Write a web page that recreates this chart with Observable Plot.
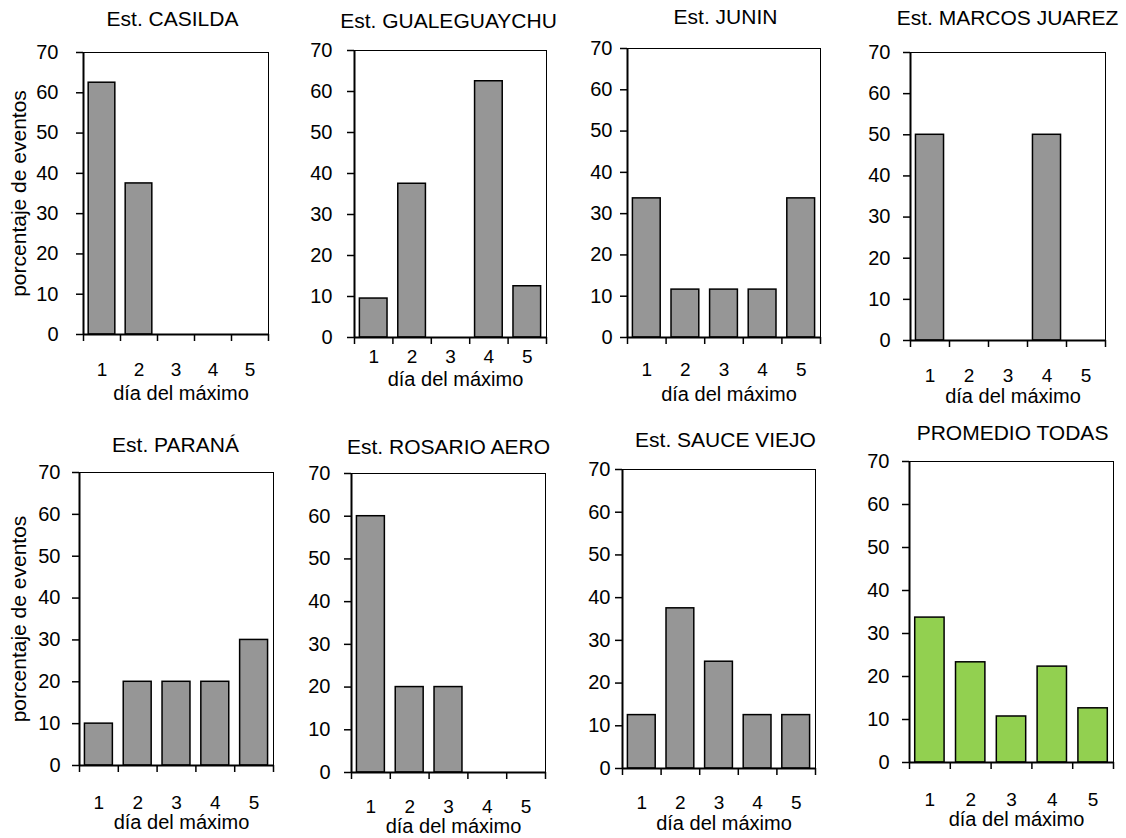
<!DOCTYPE html>
<html>
<head>
<meta charset="utf-8">
<script src="https://cdn.jsdelivr.net/npm/d3@7"></script>
<script src="https://cdn.jsdelivr.net/npm/@observablehq/plot@0.6"></script>
<style>
  html, body { margin: 0; padding: 0; background: #fff; overflow: hidden; }
  #wrap { position: relative; width: 1126px; height: 838px; overflow: hidden; background: #fff; }
  .panel { position: absolute; }
  .panel svg { overflow: visible; max-width: none !important; }
</style>
</head>
<body>
<div id="wrap"></div>
<script>
// ---- data ----
const days = [1, 2, 3, 4, 5];
const yTicks = [0, 10, 20, 30, 40, 50, 60, 70];
const titles = ["Est. CASILDA", "Est. GUALEGUAYCHU", "Est. JUNIN", "Est. MARCOS JUAREZ",
                "Est. PARANÁ", "Est. ROSARIO AERO", "Est. SAUCE VIEJO", "PROMEDIO TODAS"];
const casilda      = [62.5, 37.5, 0, 0, 0];
const gualeguaychu = [9.5, 37.5, 0, 62.5, 12.5];
const junin        = [33.7, 11.6, 11.6, 11.6, 33.7];
const marcosJuarez = [50, 0, 0, 50, 0];
const parana       = [10, 20, 20, 20, 30];
const rosarioAero  = [60, 20, 20, 0, 0];
const sauceViejo   = [12.5, 37.5, 25, 12.5, 12.5];
const promedio     = [33.7, 23.3, 10.7, 22.3, 12.6];
const series = [casilda, gualeguaychu, junin, marcosJuarez, parana, rosarioAero, sauceViejo, promedio];
const xLabel = "día del máximo";
const yLabel = "porcentaje de eventos";

// ---- layout (pixel geometry of each panel) ----
const layout = [
  {l: 83,  r: 268,  t: 52,  b: 334, tx: 172,  ty: 19,  tick: 35, xl: 59, yg: 25, ylab: true},
  {l: 354, r: 546,  t: 50,  b: 337, tx: 448,  ty: 21,  tick: 19, xl: 42, yg: 22, ylab: false},
  {l: 627, r: 820,  t: 48,  b: 337, tx: 725,  ty: 17,  tick: 32, xl: 57, yg: 15, ylab: false},
  {l: 910, r: 1105, t: 52,  b: 340, tx: 1007, ty: 18,  tick: 35, xl: 56, yg: 20, ylab: false},
  {l: 79,  r: 273,  t: 472, b: 765, tx: 175,  ty: 445, tick: 37, xl: 57, yg: 19, ylab: true},
  {l: 351, r: 545,  t: 473, b: 772, tx: 448,  ty: 447, tick: 34, xl: 54, yg: 21, ylab: false},
  {l: 622, r: 815,  t: 469, b: 768, tx: 725,  ty: 440, tick: 34, xl: 55, yg: 12, ylab: false},
  {l: 909, r: 1113, t: 461, b: 762, tx: 1012, ty: 433, tick: 37, xl: 57, yg: 20, ylab: false}
];

const ML = 95, MR = 30, MT = 50, MB = 75;
const FONT = "'Liberation Sans', Arial, sans-serif";
const wrap = document.getElementById("wrap");
const bounds = d3.range(0.5, 5.51, 1);

series.forEach((vals, i) => {
  const g = layout[i];
  const data = days.map((d, j) => ({day: d, value: vals[j]}));
  const fill = i === 7 ? "#92d050" : "#969696";
  const w = g.r - g.l, h = g.b - g.t;
  const marks = [
    Plot.rectY(data, {x1: d => d.day - 0.36, x2: d => d.day + 0.36, y1: 0, y2: "value",
      fill, stroke: "#000", strokeWidth: 1.5}),
    Plot.ruleY([70], {stroke: "#000", strokeWidth: 1}),
    Plot.ruleX([5.5], {stroke: "#000", strokeWidth: 1}),
    Plot.ruleX([0.5], {stroke: "#000", strokeWidth: 2}),
    Plot.ruleY([0], {stroke: "#000", strokeWidth: 2}),
    // category boundary tick marks below the x axis
    Plot.ruleX(bounds, {x: d => d, y1: 0, y2: 0, insetBottom: -7, stroke: "#000", strokeWidth: 1.5}),
    Plot.axisY({ticks: yTicks, tickSize: 7, tickPadding: Math.max(2, g.yg - 7),
      tickFormat: d3.format("d"), fontSize: 20, label: null, stroke: "#000", strokeWidth: 1.5}),
    Plot.axisX({ticks: days, tickSize: 0, tickPadding: g.tick - 7, tickFormat: d3.format("d"),
      fontSize: 19, label: null}),
    Plot.text([titles[i]], {frameAnchor: "top", lineAnchor: "middle", textAnchor: "middle",
      dx: g.tx - (g.l + g.r) / 2, dy: g.ty - g.t, fontSize: 21}),
    Plot.text([xLabel], {frameAnchor: "bottom", lineAnchor: "middle", textAnchor: "middle",
      dx: 5, dy: g.xl, fontSize: 20})
  ];
  if (g.ylab) {
    marks.push(Plot.text([yLabel], {frameAnchor: "left", rotate: -90, textAnchor: "middle",
      lineAnchor: "middle", dx: 19 - g.l, fontSize: 21}));
  }
  const W = w + ML + MR, H = h + MT + MB;
  const chart = Plot.plot({
    width: W,
    height: H,
    marginLeft: ML, marginRight: MR, marginTop: MT, marginBottom: MB,
    x: {domain: [0.5, 5.5], axis: null},
    y: {domain: [0, 70], axis: null},
    style: {background: "transparent", overflow: "visible", fontFamily: FONT, color: "#000",
      fontSize: "20px", maxWidth: "none", width: W + "px", height: H + "px"},
    marks
  });
  const div = document.createElement("div");
  div.className = "panel";
  div.style.left = (g.l - ML) + "px";
  div.style.top = (g.t - MT) + "px";
  div.style.width = W + "px";
  div.style.height = H + "px";
  div.appendChild(chart);
  wrap.appendChild(div);
});
</script>
</body>
</html>
